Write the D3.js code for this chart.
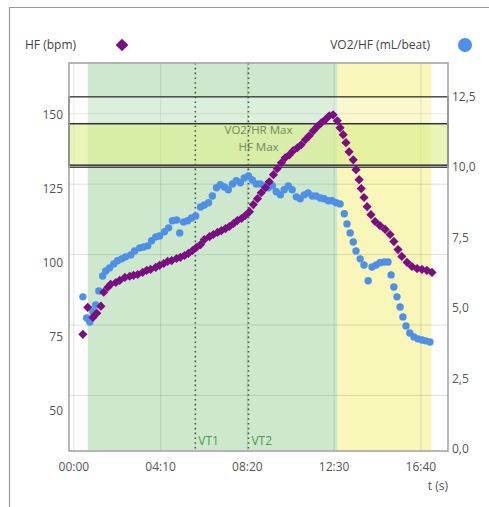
<!DOCTYPE html>
<html><head><meta charset="utf-8">
<script src="https://cdn.jsdelivr.net/npm/d3@7"></script>
<style>body{margin:0;background:#fff}svg{display:block}text{font-family:"Open Sans",sans-serif}</style>
</head><body><div id="chart"></div>
<script>
// ---- data ----
const hfTime = [26,40,55,66,78,86,98,106,121,132,147,161,172,184,198,210,221,236,247,259,270,282,296,307,319,330,342,353,365,376,391,402,414,425,437,448,460,471,483,494,506,517,529,540,552,563,575,586,598,609,621,632,644,655,667,678,690,701,713,724,736,747,
  759,767,776,784,793,805,813,822,828,836,845,856,868,882,897,911,922,934,945,960,974,989,1003,1017,1032];
const hfValue = [75.9,85.0,81.6,83.0,85.4,90.1,91.8,92.8,93.4,94.1,95.1,95.5,95.8,96.1,96.8,97.5,97.8,98.5,99.2,99.8,100.5,100.8,101.5,101.9,102.5,103.2,104.2,105.2,106.2,107.9,108.9,109.6,110.3,110.9,111.6,112.3,113.3,114.3,115.0,116.0,117.3,119.7,121.7,123.7,125.4,127.4,129.8,131.8,133.8,135.5,136.5,137.9,138.9,139.9,141.6,142.9,144.6,146.0,147.3,148.3,149.7,150.0,
  148.0,145.6,143.3,140.6,137.5,134.8,131.5,128.1,125.1,122.1,119.0,116.3,114.0,112.6,111.3,109.6,107.2,104.5,102.2,100.2,98.8,98.1,97.8,97.5,96.8];
const o2Time = [26,37,46,55,63,72,83,92,103,115,126,138,149,164,175,190,201,213,224,236,247,261,273,284,296,305,316,328,339,351,365,376,388,399,411,422,434,445,457,468,480,491,503,514,526,537,549,560,572,583,595,606,618,629,641,652,664,675,687,698,710,721,733,744,756,767,
  779,787,796,805,813,825,836,848,859,871,882,894,905,914,922,931,940,948,957,968,980,991,1003,1014,1026];
const o2Value = [5.40,4.65,4.51,4.87,5.11,5.61,6.14,6.32,6.43,6.57,6.68,6.75,6.82,6.89,7.03,7.14,7.17,7.21,7.39,7.53,7.56,7.71,7.85,8.10,8.13,7.67,8.06,8.10,8.20,8.27,8.59,8.66,8.74,8.98,9.27,9.38,9.30,9.20,9.41,9.52,9.45,9.62,9.69,9.55,9.41,9.41,9.34,9.27,9.34,9.13,9.02,9.20,9.34,9.20,8.95,8.88,9.02,9.09,8.98,8.98,8.91,8.88,8.81,8.81,8.74,8.70,
  8.35,7.99,7.67,7.35,7.03,6.75,6.53,5.97,6.46,6.53,6.61,6.64,6.64,6.18,5.75,5.40,5.04,4.69,4.37,4.12,3.98,3.91,3.87,3.84,3.80];
const xTicks = [0,250,500,750,1000];
const xTickLabels = ["00:00","04:10","08:20","12:30","16:40"];
const hfTicks = [50,75,100,125,150];
const o2Ticks = [0,2.5,5,7.5,10,12.5];
const o2TickLabels = ["0,0","2,5","5,0","7,5","10,0","12,5"];
const gridLevels = [1.9,4.4,6.9,9.4,11.9];
const zoneNames = ["green","yellow"];
const zoneStart = [40,760];
const zoneEnd = [760,1030];
const thresholdNames = ["VT1","VT2"];
const thresholdTime = [350,503];
const o2MaxBand = [10.0,12.5];
const hfMaxBand = [133,147];

// ---- layout ----
const W=489,H=507, L=69, R=448, T=63, B=451;
const svg = d3.select("#chart").append("svg").attr("width",W).attr("height",H);
const x = d3.scaleLinear().domain([-14,1078]).range([L,R]);
const yL = d3.scaleLinear().domain([36.5,167.5]).range([B,T]);
const yR = d3.scaleLinear().domain([-0.07,13.7]).range([B,T]);

// outer frame
svg.append("path").attr("d",`M9.5,${H}V7.5H${W}`).attr("fill","none").attr("stroke","#9a9a9a").attr("stroke-width",1.2);

// zones
const zoneColor = {green:"#cde8cd", yellow:"#f8f6b9"};
svg.append("g").selectAll("rect").data(zoneNames).join("rect")
  .attr("x",(d,i)=>x(zoneStart[i])).attr("width",(d,i)=>x(zoneEnd[i])-x(zoneStart[i]))
  .attr("y",T).attr("height",B-T).attr("fill",d=>zoneColor[d]);

// grid
const grid = svg.append("g").attr("stroke","rgba(90,110,90,0.2)").attr("stroke-width",1);
grid.selectAll("line.h").data(gridLevels).join("line").attr("class","h")
  .attr("x1",L).attr("x2",R).attr("y1",d=>yR(d)).attr("y2",d=>yR(d));
grid.selectAll("line.v").data(xTicks).join("line").attr("class","v")
  .attr("y1",T).attr("y2",B).attr("x1",d=>x(d)).attr("x2",d=>x(d));

// bands
svg.append("rect").attr("x",L).attr("width",R-L).attr("y",yR(o2MaxBand[1])).attr("height",yR(o2MaxBand[0])-yR(o2MaxBand[1]))
  .attr("fill","#ffffff").attr("fill-opacity",0.3).attr("stroke","#4a4a4a").attr("stroke-width",1.5);
svg.append("rect").attr("x",L).attr("width",R-L).attr("y",yL(hfMaxBand[1])).attr("height",yL(hfMaxBand[0])-yL(hfMaxBand[1]))
  .attr("fill","#d3ec72").attr("fill-opacity",0.5).attr("stroke","#333").attr("stroke-width",1.5);
svg.append("text").attr("x",(L+R)/2).attr("y",134).attr("text-anchor","middle")
  .attr("font-size",11.5).attr("fill","#6f8a62").text("VO2/HR Max");
svg.append("text").attr("x",(L+R)/2).attr("y",151).attr("text-anchor","middle")
  .attr("font-size",11.5).attr("fill","#6f8a62").text("HF Max");

// thresholds
const th = svg.append("g");
th.selectAll("line").data(thresholdNames).join("line")
  .attr("x1",(d,i)=>x(thresholdTime[i])).attr("x2",(d,i)=>x(thresholdTime[i])).attr("y1",T).attr("y2",B)
  .attr("stroke","#3f5e3f").attr("stroke-width",1.6).attr("stroke-dasharray","1.6,3.2");
th.selectAll("text").data(thresholdNames).join("text")
  .attr("x",(d,i)=>x(thresholdTime[i])+3).attr("y",B-6).attr("font-size",12).attr("fill","#4c9a4c").text(d=>d);

// plot frame
svg.append("rect").attr("x",L).attr("y",T).attr("width",R-L).attr("height",B-T).attr("fill","none").attr("stroke","#a5a5a5").attr("stroke-width",1.6);

// series
svg.append("g").selectAll("circle").data(o2Time).join("circle")
  .attr("cx",d=>x(d)).attr("cy",(d,i)=>yR(o2Value[i])).attr("r",3.7).attr("fill","#4f8fe6");
const dia = d3.symbol().type(d3.symbolSquare).size(42);
svg.append("g").selectAll("path").data(hfTime).join("path")
  .attr("transform",(d,i)=>`translate(${x(d)},${yL(hfValue[i])}) rotate(45)`).attr("d",dia).attr("fill","#7a0d82");

// axes labels
const lab = svg.append("g").attr("font-size",12).attr("fill","#555");
lab.selectAll("text.x").data(xTicks).join("text").attr("class","x")
  .attr("x",d=>x(d)).attr("y",471).attr("text-anchor","middle").text((d,i)=>xTickLabels[i]);
lab.selectAll("text.l").data(hfTicks).join("text").attr("class","l")
  .attr("x",63).attr("y",d=>yL(d)+4).attr("text-anchor","end").text(d=>d);
lab.selectAll("text.r").data(o2Ticks).join("text").attr("class","r")
  .attr("x",452).attr("y",d=>yR(d)+4).attr("text-anchor","start").text((d,i)=>o2TickLabels[i]);
lab.append("text").attr("x",448).attr("y",490).attr("text-anchor","end").text("t (s)");

// legend
const leg = svg.append("g").attr("font-size",12).attr("fill","#444");
leg.append("text").attr("x",25).attr("y",49).text("HF (bpm)");
leg.append("path").attr("transform","translate(122,45) rotate(45)").attr("d",d3.symbol().type(d3.symbolSquare).size(80)).attr("fill","#7a0d82");
leg.append("text").attr("x",430).attr("y",49).attr("text-anchor","end").text("VO2/HF (mL/beat)");
leg.append("circle").attr("cx",465).attr("cy",45).attr("r",7).attr("fill","#4f8fe6");
</script></body></html>
